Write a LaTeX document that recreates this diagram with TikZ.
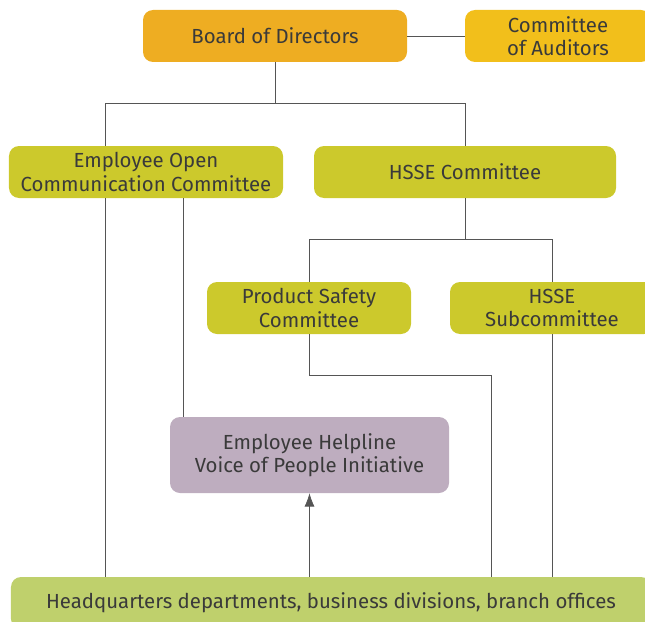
\documentclass[tikz,border=0pt]{standalone}
\usepackage{fontspec}
\setmainfont{Fira Sans}
\usepackage{xcolor}
\usepackage{tikz}
\usetikzlibrary{arrows.meta}
\definecolor{boardorange}{HTML}{EEAD22}
\definecolor{auditgold}{HTML}{F2BF1B}
\definecolor{olive}{HTML}{CCC92C}
\definecolor{mauve}{HTML}{BEADBF}
\definecolor{leaf}{HTML}{BFD06C}
\definecolor{ink}{HTML}{3A3A3A}
\definecolor{wire}{HTML}{555555}

\begin{document}
\begin{tikzpicture}[x=0.3mm, y=-0.3mm,
  orgbox/.style={rounded corners=3mm, inner sep=0pt, align=center, text=ink,
    minimum height=15.6mm, font=\fontsize{17.4}{19.8}\selectfont},
  link/.style={draw=wire, line width=0.6pt}]
  \useasboundingbox (0,0) rectangle (645,622);
  \node[orgbox, fill=boardorange, minimum width=79.2mm] (board) at (275,36) {Board of Directors};
  \node[orgbox, fill=auditgold, minimum width=55.8mm] (audit) at (558,36) {Committee\\of Auditors};
  \node[orgbox, fill=olive, minimum width=82.2mm] (eocc) at (146,172) {Employee Open\\Communication Committee};
  \node[orgbox, fill=olive, minimum width=90.6mm] (hsse) at (465,172) {HSSE Committee};
  \node[orgbox, fill=olive, minimum width=61.2mm] (psc) at (309,308) {Product Safety\\Committee};
  \node[orgbox, fill=olive, minimum width=61.2mm] (hsub) at (552,308) {HSSE\\Subcommittee};
  \node[orgbox, fill=mauve, minimum width=83.7mm, minimum height=22.8mm] (helpline) at (309.5,455) {Employee Helpline\\Voice of People Initiative};
  \node[orgbox, fill=leaf, minimum width=192mm] (hq) at (331,603) {Headquarters departments, business divisions, branch offices};
  \coordinate (topl) at (105,103);
  \coordinate (topr) at (465,103);
  \coordinate (midl) at (309,239);
  \coordinate (midr) at (552,239);
  \coordinate (step) at (491,375);
  \coordinate (vop) at (183,417);
  \draw[link] (board.east) -- (audit.west);
  \draw[link] (board.south) -- (board.south |- topl);
  \draw[link] (topl) -- (topr);
  \draw[link] (topl) -- (topl |- eocc.north);
  \draw[link] (topr) -- (hsse.north);
  \draw[link] (hsse.south) -- (hsse.south |- midl);
  \draw[link] (midl) -- (midr);
  \draw[link] (midl) -- (psc.north);
  \draw[link] (midr) -- (hsub.north);
  \draw[link] (psc.south) |- (step) -- (step |- hq.north);
  \draw[link] (hsub.south) -- (hsub.south |- hq.north);
  \draw[link] (topl |- eocc.south) -- (topl |- hq.north);
  \draw[link] (vop |- eocc.south) -- (vop);
  \draw[link, -{Latex[length=4mm, width=3mm]}] (helpline.south |- hq.north) -- (helpline.south);
\end{tikzpicture}
\end{document}
